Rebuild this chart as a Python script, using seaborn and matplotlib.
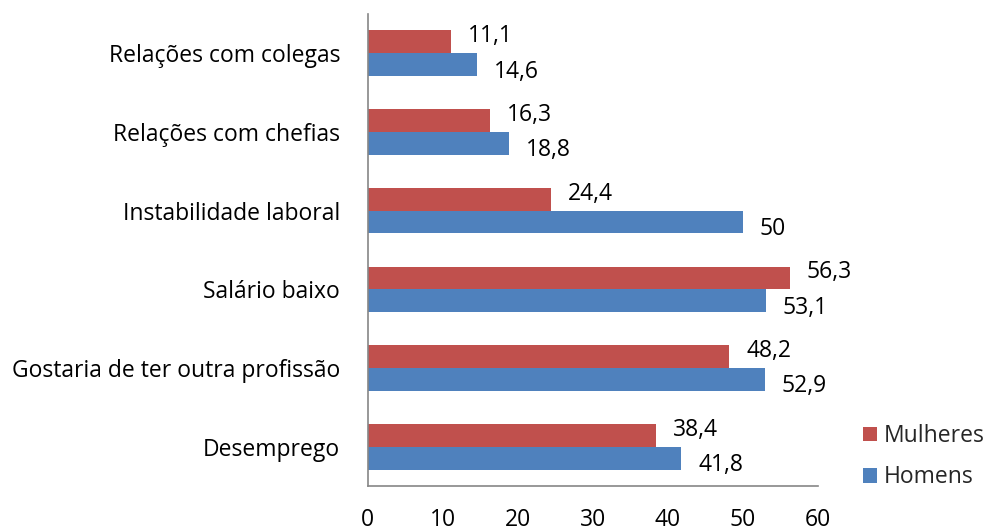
import matplotlib
matplotlib.use("Agg")
import matplotlib.pyplot as plt
import seaborn as sns
import pandas as pd
from matplotlib.patches import Patch

categories = ["Relações com colegas", "Relações com chefias", "Instabilidade laboral",
              "Salário baixo", "Gostaria de ter outra profissão", "Desemprego"]
mulheres = [11.1, 16.3, 24.4, 56.3, 48.2, 38.4]
homens = [14.6, 18.8, 50, 53.1, 52.9, 41.8]
series = ["Mulheres", "Homens"]
colors = ["#C0504D", "#4F81BD"]
xticks = [0, 10, 20, 30, 40, 50, 60]

df = pd.DataFrame({
    "cat": categories * 2,
    "val": mulheres + homens,
    "sex": ["Mulheres"] * len(categories) + ["Homens"] * len(categories),
})

sns.set_style("white")
plt.rcParams['font.family'] = ['Open Sans', 'DejaVu Sans']
FS = 16.5

fig = plt.figure(figsize=(9.89, 5.31), dpi=100)
ax = fig.add_axes([0.372, 0.0847, 0.455, 0.889])

sns.barplot(data=df, y="cat", x="val", hue="sex", order=categories, hue_order=series,
            palette=colors, orient="h", width=0.58, ax=ax, legend=False,
            saturation=1, errorbar=None, linewidth=0)

def fmt(v):
    s = f"{v:.1f}".rstrip("0").rstrip(".")
    return s.replace(".", ",")

dys = [4, -5]
for cont, dy in zip(ax.containers, dys):
    anns = ax.bar_label(cont, labels=[fmt(b.get_width()) for b in cont], padding=12,
                        fontsize=FS, color="black")
    for a in anns:
        a.xyann = (12, dy)

ax.set_xlim(0, 60)
ax.set_ylim(len(categories) - 0.5, -0.5)
ax.set_xticks(xticks)
ax.set_xticklabels([str(t) for t in xticks])
ax.set_xlabel("")
ax.set_ylabel("")

# y ticks at category boundaries (Excel style)
ax.set_yticks([i + 0.5 for i in range(-1, len(categories))], minor=True)
ax.set_yticks(range(len(categories)))
ax.set_yticklabels(categories)
ax.tick_params(axis="y", which="major", length=0, pad=20, labelsize=FS, labelcolor="black")
ax.tick_params(axis="y", which="minor", length=6, width=1.2, color="#868686", direction="out")
ax.tick_params(axis="x", which="major", length=6, width=1.2, color="#868686",
               direction="out", pad=10, labelsize=FS, labelcolor="black")

for s in ["top", "right"]:
    ax.spines[s].set_visible(False)
for s in ["left", "bottom"]:
    ax.spines[s].set_color("#868686")
    ax.spines[s].set_linewidth(1.2)

handles = [Patch(facecolor=c, edgecolor="none") for c in colors]
fig.legend(handles, series, loc="upper left", bbox_to_anchor=(0.852, 0.24),
           frameon=False, fontsize=FS, handlelength=0.6, handleheight=0.6,
           handletextpad=0.3, labelspacing=0.75)

fig.savefig("out.png", dpi=100)
